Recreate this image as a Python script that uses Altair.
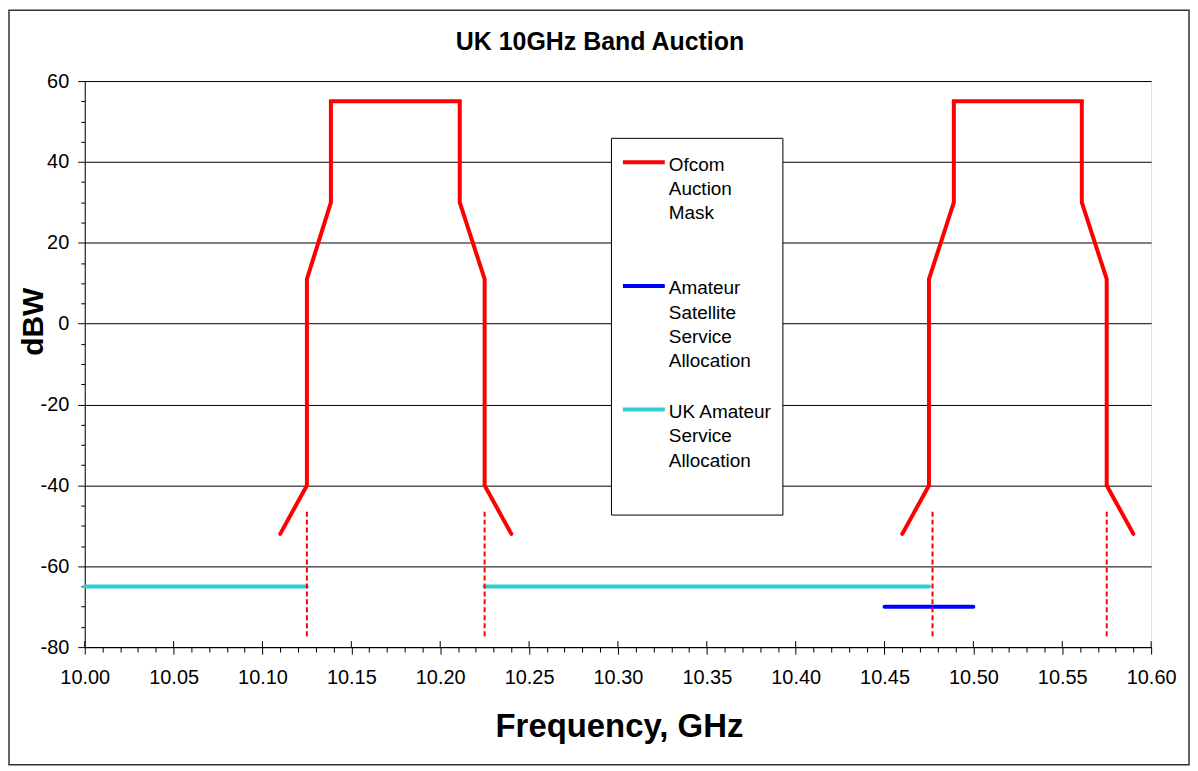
import altair as alt
import pandas as pd

FONT = "Liberation Sans"

# ---------------- data ----------------
series_names = ["Ofcom Auction Mask",
                "Amateur Satellite Service Allocation",
                "UK Amateur Service Allocation"]
series_colors = ["#FF0000", "#0000FF", "#33CCCC"]
legend_lines = [["Ofcom", "Auction", "Mask"],
                ["Amateur", "Satellite", "Service", "Allocation"],
                ["UK Amateur", "Service", "Allocation"]]

mask1_x = [10.11, 10.125, 10.125, 10.1385, 10.1385, 10.211, 10.211, 10.225, 10.225, 10.24]
mask1_y = [-52, -40, 11, 30, 55, 55, 30, 11, -40, -52]
mask2_x = [10.46, 10.475, 10.475, 10.489, 10.489, 10.561, 10.561, 10.575, 10.575, 10.59]
mask2_y = [-52, -40, 11, 30, 55, 55, 30, 11, -40, -52]

uk1_x = [10.00, 10.125]
uk1_y = [-65, -65]
uk2_x = [10.225, 10.475]
uk2_y = [-65, -65]

sat_x = [10.45, 10.50]
sat_y = [-70, -70]

edge_x = [10.125, 10.225, 10.477, 10.575]
edge_top = [-46.5, -46.5, -46.5, -46.5]
edge_bottom = [-78, -78, -78, -78]

x_major = [10.00, 10.05, 10.10, 10.15, 10.20, 10.25, 10.30,
           10.35, 10.40, 10.45, 10.50, 10.55, 10.60]
x_all_ticks = [round(10 + i / 100, 2) for i in range(61)]
y_all_ticks = list(range(-80, 61, 5))

# ---------------- tables ----------------
rows = []
def add(name, seg, xs, ys):
    for i, (a, b) in enumerate(zip(xs, ys)):
        rows.append({"series": name, "seg": seg, "order": i, "x": a, "y": b})

add(series_names[0], "m1", mask1_x, mask1_y)
add(series_names[0], "m2", mask2_x, mask2_y)
add(series_names[1], "s1", sat_x, sat_y)
add(series_names[2], "u1", uk1_x, uk1_y)
add(series_names[2], "u2", uk2_x, uk2_y)
lines_df = pd.DataFrame(rows)

edges_df = pd.DataFrame({"x": edge_x, "y1": edge_top, "y2": edge_bottom})
major_df = pd.DataFrame({"t": x_major})

W, H = 1070, 568

xs = alt.Scale(domain=[10.0, 10.6], nice=False, zero=False)
ys = alt.Scale(domain=[-80, 60], nice=False, zero=False)

label_expr = ""
for name, ln in zip(series_names[:-1], legend_lines[:-1]):
    arr = "[" + ",".join("'" + s + "'" for s in ln) + "]"
    label_expr += f"datum.label === '{name}' ? {arr} : "
label_expr += "[" + ",".join("'" + s + "'" for s in legend_lines[-1]) + "]"

x_axis = alt.Axis(
    values=x_all_ticks,
    labelExpr="abs(round(datum.value*100)) % 5 === 0 ? format(datum.value, '.2f') : ''",
    tickSize={"condition": {"test": "abs(round(datum.value*100)) % 5 === 0", "value": 7}, "value": 5},
    grid=False, labelFlush=False, labelOverlap=False, labelBound=False,
    labelFont=FONT, labelFontSize=20, labelColor="black", labelPadding=14,
    domainColor="black", tickColor="black",
    title="Frequency, GHz", titleFont=FONT, titleFontSize=33, titleFontWeight="bold",
    titleColor="black", titleBaseline="alphabetic", titleY=90, titleX=W / 2 + 1,
)
y_axis = alt.Axis(
    values=y_all_ticks,
    labelExpr="datum.value % 20 === 0 ? '' + datum.value : ''",
    tickSize={"condition": {"test": "datum.value % 20 === 0", "value": 7}, "value": 4},
    grid=True, gridColor="black", gridWidth=1,
    gridOpacity={"condition": {"test": "datum.value % 20 === 0", "value": 1}, "value": 0},
    labelFlush=False, labelOverlap=False, labelBound=False,
    labelFont=FONT, labelFontSize=20, labelColor="black", labelPadding=9,
    domainColor="black", tickColor="black",
    title="dBW", titleFont=FONT, titleFontSize=30, titleFontWeight="bold",
    titleColor="black", titleBaseline="alphabetic", titleAlign="center",
    titleX=-42, titleY=241, titleAngle=-90,
)

legend = alt.Legend(
    orient="none", legendX=528, legendY=57, title=None,
    fillColor="white", strokeColor="black", padding=10,
    labelFont=FONT, labelFontSize=19, labelColor="black", labelLimit=400,
    labelBaseline="alphabetic", labelOffset=2,
    symbolType="M-1,-0.4L1,-0.4M0,-0.9L0,-0.9M0,3.72L0,3.72",
    symbolSize=1764, symbolStrokeWidth=4, rowPadding=10,
    labelExpr=label_expr,
)

border = alt.Chart(pd.DataFrame({"a": [0]})).mark_rect(
    fill="transparent", stroke="#333333", strokeWidth=1.5
).encode(x=alt.value(-76), x2=alt.value(W + 38), y=alt.value(-71), y2=alt.value(H + 118))

lines = alt.Chart(lines_df).mark_line(
    strokeWidth=4, strokeCap="round", strokeJoin="miter", clip=False
).encode(
    x=alt.X("x:Q", scale=xs, axis=x_axis),
    y=alt.Y("y:Q", scale=ys, axis=y_axis),
    color=alt.Color("series:N", scale=alt.Scale(domain=series_names, range=series_colors),
                    legend=legend),
    detail="seg:N",
    order="order:Q",
)

edges = alt.Chart(edges_df).mark_rule(
    color="#FF0000", strokeWidth=2, strokeDash=[5, 3]
).encode(
    x=alt.X("x:Q", scale=xs, axis=x_axis),
    y=alt.Y("y1:Q", scale=ys, axis=y_axis),
    y2="y2:Q",
)

inner_ticks = alt.Chart(major_df).mark_rule(color="black", strokeWidth=1).encode(
    x=alt.X("t:Q", scale=xs, axis=x_axis),
    y=alt.value(H),
    y2=alt.value(H - 6),
)

chart = alt.layer(border, lines, edges, inner_ticks).properties(
    width=W, height=H,
    autosize=alt.AutoSizeParams(type="none"),
    padding={"left": 77, "top": 72, "right": 39, "bottom": 119},
    title=alt.TitleParams("UK 10GHz Band Auction", font=FONT, fontSize=25,
                          fontWeight="bold", color="black", anchor="middle",
                          dx=-18, baseline="alphabetic", offset=-66),
    background="white",
).configure_view(
    fill="#FFFFCC", stroke="black", strokeWidth=1
).configure_legend(
    strokeWidth=2
).configure(
    style={"guide-label": {"lineHeight": 24.4}}
)

chart.save("out.html", embed_options={"renderer": "svg", "actions": False})
